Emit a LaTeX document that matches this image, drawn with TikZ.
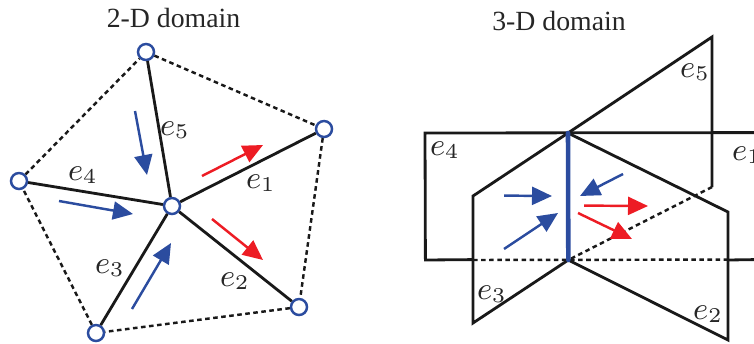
\documentclass[tikz,border=0pt]{standalone}
\usepackage{fontspec}
\setmainfont{Liberation Serif}
\usepackage{amsmath}
\usepackage{xcolor}
\usetikzlibrary{arrows.meta,positioning,calc}
\definecolor{edgeblue}{HTML}{2B4C9F}
\definecolor{edgered}{HTML}{ED1C24}
\tikzset{
  vertex/.style={circle, draw=edgeblue, fill=white, line width=0.7pt, minimum size=0.16cm, inner sep=0pt},
  edge/.style={line width=0.8pt, black!90},
  hidden/.style={line width=0.7pt, black!90, dash pattern=on 1.3pt off 1pt},
  blueflow/.style={-{Triangle[length=0.2cm, width=0.18cm]}, line width=0.7pt, edgeblue},
  redflow/.style={-{Triangle[length=0.2cm, width=0.18cm]}, line width=0.7pt, edgered},
  title/.style={font=\fontsize{7.9}{10}\selectfont, black!85},
  elabel/.style={font=\fontsize{8.8}{10}\selectfont, black!85, inner sep=0pt}
}

\begin{document}
\begin{tikzpicture}
  \clip (0, 0) rectangle (7.54, 3.43);

  % 2-D domain
  \node[title] (title2d) at (1.735, 3.25) {2-D domain};
  \node[vertex] (c) at (1.72, 1.37) {};
  \node[vertex] (v1) at (3.24, 2.14) {};
  \node[vertex] (v2) at (2.99, 0.36) {};
  \node[vertex] (v3) at (0.96, 0.10) {};
  \node[vertex] (v4) at (0.19, 1.62) {};
  \node[vertex] (v5) at (1.46, 2.91) {};

  % Spokes and dashed boundary
  \foreach \v in {v1, v2, v3, v4, v5} {
    \draw[edge] (c) -- (\v);
  }
  \draw[hidden] (v1) -- (v2);
  \draw[hidden] (v2) -- (v3);
  \draw[hidden] (v3) -- (v4);
  \draw[hidden] (v4) -- (v5);
  \draw[hidden] (v5) -- (v1);

  % Flow arrows
  \coordinate (a5s) at (1.35, 2.32);
  \coordinate (a5t) at (1.47, 1.68);
  \coordinate (a4s) at (0.59, 1.42);
  \coordinate (a4t) at (1.33, 1.29);
  \coordinate (a3s) at (1.32, 0.34);
  \coordinate (a3t) at (1.71, 1.00);
  \coordinate (a1s) at (2.02, 1.67);
  \coordinate (a1t) at (2.63, 1.98);
  \coordinate (a2s) at (2.12, 1.24);
  \coordinate (a2t) at (2.63, 0.83);
  \draw[blueflow] (a5s) -- (a5t);
  \draw[blueflow] (a4s) -- (a4t);
  \draw[blueflow] (a3s) -- (a3t);
  \draw[redflow] (a1s) -- (a1t);
  \draw[redflow] (a2s) -- (a2t);

  % Labels
  \node[elabel] (l1) at (2.61, 1.60) {$e_1$};
  \node[elabel] (l2) at (2.35, 0.62) {$e_2$};
  \node[elabel] (l3) at (1.10, 0.75) {$e_3$};
  \node[elabel] (l4) at (0.83, 1.68) {$e_4$};
  \node[elabel] (l5) at (1.75, 2.13) {$e_5$};

  % 3-D domain
  \node[title] (title3d) at (5.59, 3.22) {3-D domain};
  \coordinate (top) at (5.68, 2.10);
  \coordinate (bot) at (5.683, 0.83);

  % Sheet e4 and e1
  \draw[edge] (7.54, 2.104) -- (4.25, 2.10) -- (4.254, 0.83) -- (4.73, 0.834);
  \draw[edge] (7.28, 0.83) -- (7.54, 0.834);
  \draw[hidden] (4.73, 0.83) -- (7.28, 0.834);

  % Sheet e5
  \draw[edge] (top) -- (7.12, 3.06) -- (7.12, 1.56);
  \draw[hidden] (7.12, 1.56) -- (bot);

  % Sheets e3 and e2
  \draw[edge] (top) -- (4.73, 1.47) -- (4.73, 0.20) -- (bot);
  \draw[edge] (top) -- (7.28, 1.31) -- (7.28, 0.03) -- (bot);

  % Junction
  \draw[line width=1.3pt, edgeblue, line cap=round] (top) -- (bot);

  % Flow arrows
  \coordinate (b1s) at (5.04, 1.474);
  \coordinate (b1t) at (5.52, 1.47);
  \coordinate (b2s) at (5.04, 0.94);
  \coordinate (b2t) at (5.58, 1.30);
  \coordinate (b3s) at (6.23, 1.69);
  \coordinate (b3t) at (5.80, 1.47);
  \coordinate (r1s) at (5.84, 1.374);
  \coordinate (r1t) at (6.48, 1.37);
  \coordinate (r2s) at (5.78, 1.30);
  \coordinate (r2t) at (6.32, 1.04);
  \draw[blueflow] (b1s) -- (b1t);
  \draw[blueflow] (b2s) -- (b2t);
  \draw[blueflow] (b3s) -- (b3t);
  \draw[redflow] (r1s) -- (r1t);
  \draw[redflow] (r2s) -- (r2t);

  % Labels
  \node[elabel] (m1) at (7.47, 1.88) {$e_1$};
  \node[elabel] (m2) at (7.08, 0.29) {$e_2$};
  \node[elabel] (m3) at (4.92, 0.49) {$e_3$};
  \node[elabel] (m4) at (4.45, 1.93) {$e_4$};
  \node[elabel] (m5) at (6.95, 2.71) {$e_5$};

\end{tikzpicture}
\end{document}
